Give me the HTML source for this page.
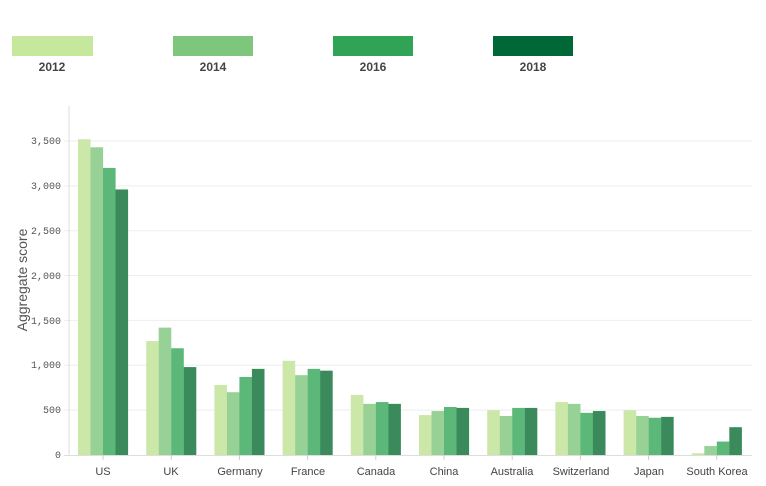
<!DOCTYPE html>
<html><head><meta charset="utf-8"><style>
body{margin:0;background:#fff;width:766px;height:486px;overflow:hidden}
svg{display:block}
.t{font-family:"Liberation Mono",monospace;font-size:10px;fill:#555}
.x{font-family:"Liberation Sans",sans-serif;font-size:11px;fill:#444}
.l{font-family:"Liberation Sans",sans-serif;font-size:12px;font-weight:bold;fill:#444}
</style></head><body>
<svg id="s" width="766" height="486" xmlns="http://www.w3.org/2000/svg">
<rect x="12" y="36" width="81" height="20" fill="#c6e89c"/>
<rect x="173" y="36" width="80" height="20" fill="#7dc67c"/>
<rect x="333" y="36" width="80" height="20" fill="#31a354"/>
<rect x="493" y="36" width="80" height="20" fill="#006837"/>
<text class="l" x="52" y="71" text-anchor="middle">2012</text>
<text class="l" x="213" y="71" text-anchor="middle">2014</text>
<text class="l" x="373" y="71" text-anchor="middle">2016</text>
<text class="l" x="533" y="71" text-anchor="middle">2018</text>
<g id="grid" stroke="#eeeeee" stroke-width="1"></g>
<line x1="69" y1="106" x2="69" y2="456" stroke="#ddd"/>
<line x1="64" y1="455.5" x2="752" y2="455.5" stroke="#ddd"/>
<g class="t" text-anchor="end">
<text x="61" y="458">0</text><text x="61" y="413">500</text><text x="61" y="368">1,000</text>
<text x="61" y="324">1,500</text><text x="61" y="279">2,000</text><text x="61" y="234">2,500</text>
<text x="61" y="189">3,000</text><text x="61" y="144">3,500</text>
</g>
<text x="27" y="280" transform="rotate(-90 27 280)" text-anchor="middle" font-family="Liberation Sans,sans-serif" font-size="14" fill="#555">Aggregate score</text>
<g id="bars"></g>
<g class="x" text-anchor="middle">
<text x="103" y="475">US</text><text x="171" y="475">UK</text><text x="240" y="475">Germany</text>
<text x="308" y="475">France</text><text x="376" y="475">Canada</text><text x="444" y="475">China</text>
<text x="512" y="475">Australia</text><text x="581" y="475">Switzerland</text><text x="649" y="475">Japan</text>
<text x="717" y="475">South Korea</text>
</g>
</svg>
<script>
var d=[[3520,3430,3200,2960],[1270,1420,1190,980],[780,700,870,960],[1050,890,960,940],[670,570,590,570],[445,490,535,525],[500,435,525,525],[590,570,470,490],[500,435,415,425],[20,100,150,310]];
var c=["#cce8a8","#98d196","#5cb878","#3a8a5c"];
var ns="http://www.w3.org/2000/svg",b=document.getElementById("bars"),g=document.getElementById("grid");
for(var k=1;k<=7;k++){var y=455-k*44.86;var l=document.createElementNS(ns,"line");l.setAttribute("x1",64);l.setAttribute("x2",752);l.setAttribute("y1",y);l.setAttribute("y2",y);g.appendChild(l);}
d.forEach(function(v,i){var cx=103+68.2*i;v.forEach(function(val,j){var h=val*0.08971;var r=document.createElementNS(ns,"rect");r.setAttribute("x",cx-25+12.5*j);r.setAttribute("width",12.6);r.setAttribute("y",455-h);r.setAttribute("height",h);r.setAttribute("fill",c[j]);b.appendChild(r);});
var t=document.createElementNS(ns,"line");t.setAttribute("x1",cx);t.setAttribute("x2",cx);t.setAttribute("y1",455);t.setAttribute("y2",460);t.setAttribute("stroke","#ccc");b.appendChild(t);});
</script>
</body></html>
